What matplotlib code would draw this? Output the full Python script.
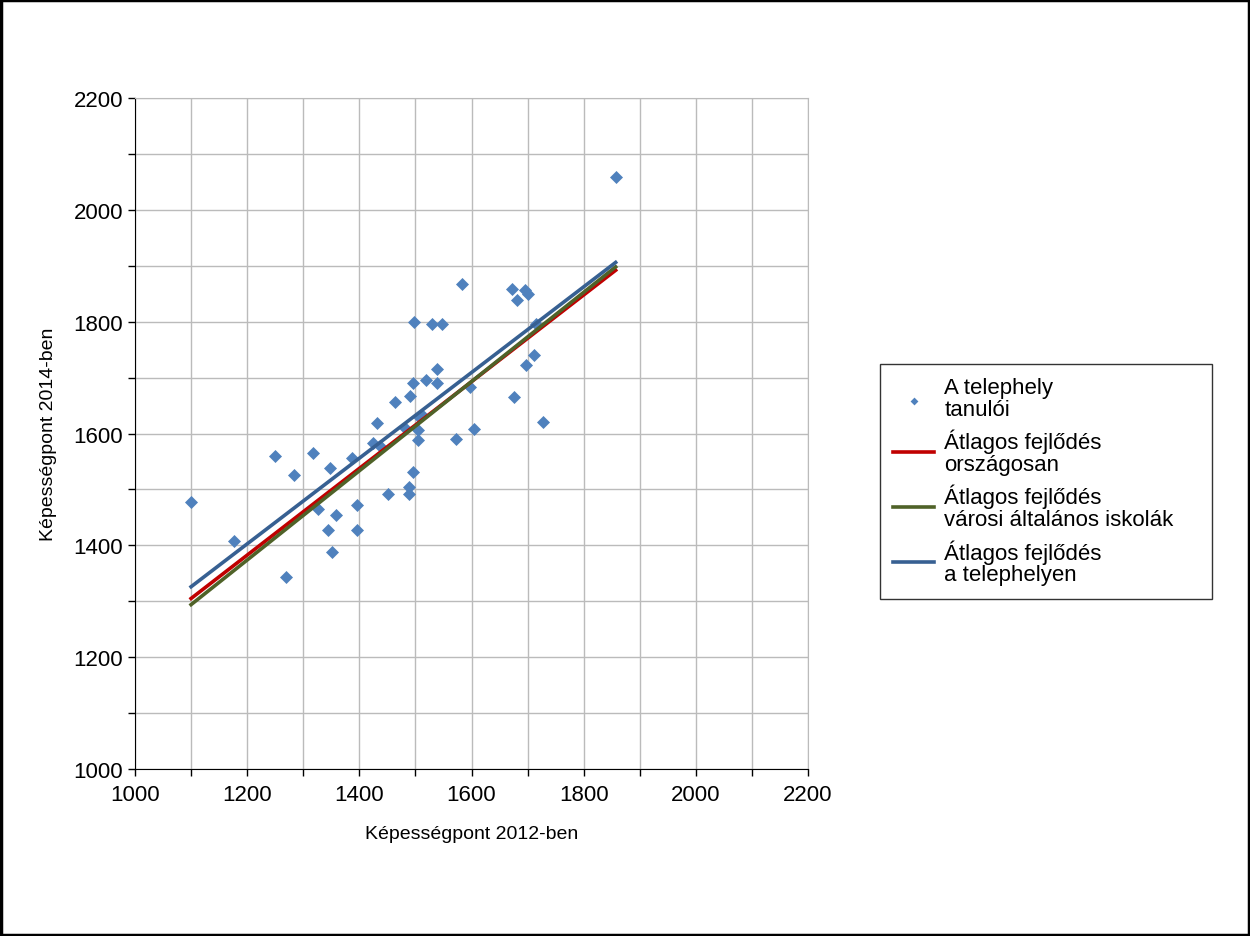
import matplotlib
matplotlib.use("Agg")
import matplotlib.pyplot as plt
from matplotlib.ticker import MultipleLocator

plt.rcParams['font.family'] = ['Liberation Sans', 'DejaVu Sans']

# tanulók pontjai (2012, 2014)
x2012 = [1100, 1176, 1250, 1270, 1283, 1317, 1326, 1347, 1345, 1352,
         1359, 1387, 1396, 1396, 1424, 1436, 1432, 1452, 1464, 1482,
         1490, 1489, 1488, 1496, 1496, 1498, 1504, 1504, 1507, 1512,
         1519, 1529, 1547, 1539, 1539, 1572, 1583, 1598, 1605, 1673,
         1682, 1696, 1701, 1676, 1698, 1711, 1715, 1728, 1857]
y2014 = [1477, 1408, 1560, 1343, 1526, 1566, 1465, 1538, 1427, 1388,
         1455, 1556, 1473, 1427, 1583, 1578, 1618, 1492, 1657, 1610,
         1668, 1505, 1491, 1532, 1690, 1799, 1606, 1589, 1630, 1634,
         1695, 1795, 1795, 1715, 1691, 1590, 1868, 1684, 1609, 1858,
         1838, 1857, 1850, 1665, 1722, 1741, 1795, 1620, 2059]

# átlagos fejlődés vonalak (kezdő és végpont)
line_x = [1100, 1857]
orszagos = [1305, 1892]
varosi = [1294, 1898]
telephely = [1326, 1906]

fig = plt.figure(figsize=(12.5, 9.37), dpi=100)
ax = fig.add_axes([0.108, 0.1782, 0.5384, 0.7161])

ax.scatter(x2012, y2014, marker='D', s=44, color='#4F81BD', zorder=3,
           label='A telephely\ntanulói', linewidths=0)
ax.plot(line_x, orszagos, color='#C00000', lw=2.6, zorder=4,
        label='Átlagos fejlődés\nországosan')
ax.plot(line_x, varosi, color='#4F6228', lw=2.6, zorder=4,
        label='Átlagos fejlődés\nvárosi általános iskolák')
ax.plot(line_x, telephely, color='#376092', lw=2.6, zorder=5,
        label='Átlagos fejlődés\na telephelyen')

ax.set_xlim(1000, 2200)
ax.set_ylim(1000, 2200)
ax.xaxis.set_major_locator(MultipleLocator(200))
ax.yaxis.set_major_locator(MultipleLocator(200))
ax.xaxis.set_minor_locator(MultipleLocator(100))
ax.yaxis.set_minor_locator(MultipleLocator(100))
ax.grid(True, which='both', color='#BBBBBB', lw=1)
ax.set_axisbelow(True)
ax.tick_params(which='both', direction='out', length=5, width=1, colors='black',
               labelsize=16)
ax.tick_params(axis='x', pad=6)
for s in ['top', 'right']:
    ax.spines[s].set_color('#BBBBBB')
for s in ['left', 'bottom']:
    ax.spines[s].set_color('black')

ax.set_xlabel('Képességpont 2012-ben', fontsize=14, labelpad=14)
ax.set_ylabel('Képességpont 2014-ben', fontsize=14, labelpad=12)

leg = ax.legend(loc='center left', bbox_to_anchor=(1.107, 0.429, 0.4933, 0),
                mode='expand', fontsize=16,
                frameon=True, fancybox=False, edgecolor='black',
                handlelength=1.85, handletextpad=0.45, labelspacing=0.4,
                borderpad=0.6, borderaxespad=0,
                scatterpoints=1, markerscale=0.6)
leg.get_frame().set_linewidth(1)
for t in leg.get_texts():
    t.set_linespacing(1.05)

fig.patches.append(plt.Rectangle((0.001, 0.001), 0.998, 0.998,
                                 transform=fig.transFigure, fill=False,
                                 edgecolor='black', lw=2.5))

fig.savefig('out.png', dpi=100)
